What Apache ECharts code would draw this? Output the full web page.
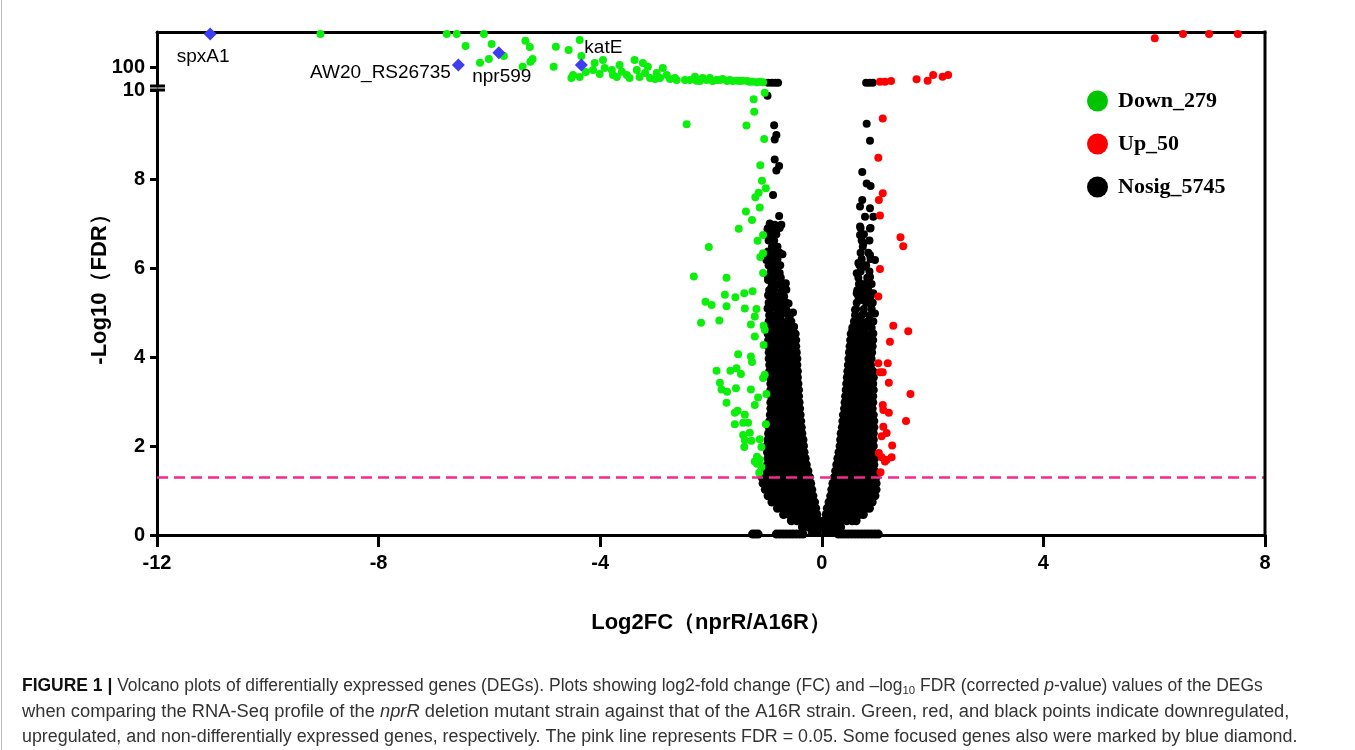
<!DOCTYPE html>
<html><head><meta charset="utf-8">
<script src="https://cdn.jsdelivr.net/npm/echarts@6/dist/echarts.min.js"></script>
<style>html,body{margin:0;padding:0;background:#fff}#c{width:1355px;height:750px}</style>
</head><body><div id="c"></div>
<script>
// ---------- data ----------
const xTicks = [-12, -8, -4, 0, 4, 8];
const lowerTicks = [0, 2, 4, 6, 8, 10];
const upperTicks = [100];
const legendNames = ['Down_279', 'Up_50', 'Nosig_5745'];
const fdrCut = 1.3; // -log10(0.05)

// Down-regulated (green), lower segment 0..10
const downLower = [[-1.03,9.94],[-1.23,9.79],[-1.22,9.51],[-2.44,9.23],[-1.36,9.20],[-1.04,8.90],[-1.11,8.31],[-1.08,7.96],[-1.01,7.79],[-1.14,7.69],[-1.20,7.59],[-1.37,7.27],[-1.12,7.36],[-1.26,7.08],[-1.50,6.88],[-1.06,6.74],[-1.16,6.61],[-2.04,6.47],[-1.06,6.33],[-1.11,6.25],[-1.06,5.89],[-2.31,5.81],[-1.72,5.78],[-1.25,5.48],[-1.40,5.43],[-1.75,5.40],[-1.56,5.34],[-2.10,5.24],[-1.99,5.17],[-1.72,5.14],[-1.39,5.09],[-1.18,5.08],[-1.21,4.91],[-2.18,4.77],[-1.85,4.82],[-1.28,4.73],[-1.05,4.70],[-1.03,4.61],[-1.21,4.46],[-1.05,4.27],[-1.51,4.06],[-1.28,4.01],[-1.26,3.89],[-1.90,3.69],[-1.65,3.69],[-1.54,3.75],[-1.46,3.62],[-1.03,3.60],[-1.06,3.53],[-1.84,3.42],[-1.81,3.27],[-1.71,3.22],[-1.55,3.30],[-1.28,3.27],[-1.00,3.17],[-1.15,3.09],[-1.21,2.92],[-1.72,2.97],[-1.52,2.79],[-1.57,2.75],[-1.39,2.70],[-1.57,2.49],[-1.42,2.52],[-1.33,2.52],[-1.01,2.49],[-1.30,2.30],[-1.42,2.25],[-1.39,2.13],[-1.27,2.12],[-1.40,1.98],[-1.12,2.15],[-1.09,1.98],[-1.17,1.76],[-1.12,1.69],[-1.17,1.60],[-1.09,1.53],[-1.13,1.40],[-1.21,1.65]];
// Down-regulated (green), upper segment (> 10)
const downUpper = [[-9.05,257],[-6.77,257],[-6.59,257],[-6.10,257],[-6.43,200],[-5.96,209],[-5.74,152],[-6.17,120],[-6.01,138],[-5.35,225],[-5.27,195],[-5.22,138],[-5.26,125],[-5.40,101],[-4.80,196],[-4.57,181],[-4.37,228],[-4.34,152],[-4.84,101],[-4.49,62],[-4.37,53],[-4.52,48],[-4.13,86],[-4.10,119],[-3.95,133],[-3.92,95],[-3.79,86],[-3.77,62],[-3.65,110],[-3.61,78],[-3.52,62],[-3.38,133],[-3.34,86],[-3.23,119],[-3.19,72],[-3.14,101],[-3.10,48],[-2.98,72],[-2.92,48],[-2.87,95],[-2.80,62],[-2.65,48],[-2.62,38],[-2.29,54],[-2.26,35],[-2.15,48],[-2.02,48],[-1.90,38],[-1.79,43],[-1.66,38],[-1.53,35],[-1.43,35],[-1.30,30],[-1.17,28],[-1.06,28],[-2.38,38],[-2.20,34],[-2.08,38],[-1.97,34],[-1.84,38],[-1.71,34],[-1.61,34],[-1.48,34],[-1.35,34],[-1.25,30],[-1.12,30],[-4.26,76],[-4.01,67],[-3.70,53],[-3.47,48],[-3.29,53],[-3.01,43],[-2.74,43],[-2.47,38]];

// Up-regulated (red)
const upLower = [[1.10,9.36],[1.02,8.48],[1.10,7.68],[1.03,7.53],[1.05,7.18],[1.42,6.69],[1.47,6.49],[1.05,5.98],[1.02,5.36],[1.29,4.70],[1.56,4.58],[1.23,4.34],[1.02,3.86],[1.19,3.86],[1.05,3.66],[1.10,3.66],[1.21,3.42],[1.60,3.17],[1.10,2.92],[1.11,2.81],[1.21,2.75],[1.52,2.56],[1.11,2.43],[1.17,2.29],[1.08,2.22],[1.27,2.01],[1.03,1.84],[1.08,1.75],[1.26,1.75],[1.14,1.65],[1.17,1.69],[1.06,1.41]];
const upUpper = [[1.05,30],[1.14,30],[1.25,34],[1.71,42],[1.91,35],[2.01,62],[2.18,54],[2.28,62],[6.01,236],[6.52,257],[6.99,257],[7.51,257]];

// Not significant (black)
const nosigUpper = [[-0.97,26],[-0.90,26],[-0.84,26],[-0.79,26],[0.80,26],[0.86,26],[0.92,26]];
const nosigSparse = [[-0.98,9.87],[-0.86,9.21],[-0.82,8.99],[-0.85,8.89],[-0.85,8.44],[-0.77,8.29],[-0.82,8.19],[-0.88,7.64],[-0.77,7.17],[-0.94,7.00],[-0.85,6.97],[-0.73,6.97],[-0.98,6.87],[-0.88,6.85],[-1.00,6.74],[-0.91,6.64],[-0.82,6.48],[-0.97,6.37],[-0.85,6.25],[-0.71,6.31],[-1.00,6.18],[-0.91,6.07],[-0.82,5.96],[-0.76,5.89],[-0.97,5.73],[-0.91,5.58],[-0.82,5.62],[-0.65,5.66],[-0.97,5.39],[-0.73,5.43],[-0.64,5.51],[-0.85,5.28],[-0.70,5.24],[-0.98,5.09],[-0.79,5.06],[-0.64,5.06],[-0.88,4.91],[-0.76,4.83],[-0.58,4.91],[-0.97,4.72],[-0.64,4.72],[-0.55,4.80],[-0.50,4.68],[-0.90,5.18],[-0.60,5.20],[-0.52,5.00],[-0.80,4.62],[-0.70,4.70],
[0.81,9.24],[0.87,8.86],[0.73,8.16],[0.81,7.90],[0.88,7.84],[0.73,7.53],[0.69,7.38],[0.87,7.34],[0.78,7.15],[0.93,7.15],[0.69,6.93],[0.87,6.89],[0.69,6.74],[0.75,6.55],[0.87,6.29],[0.66,6.11],[0.78,6.03],[0.96,6.18],[0.63,5.88],[0.87,5.80],[0.69,5.66],[0.81,5.54],[0.63,5.43],[0.93,5.43],[0.72,5.28],[0.87,5.21],[0.60,5.06],[0.75,4.98],[0.96,4.98],[0.63,4.83],[0.87,4.83],[0.57,4.68],[0.75,4.64],[0.93,4.53],[0.55,4.58],[0.68,4.75],[0.82,4.68]];
// looser band of the V arms, y 4.66..6.9: [-log10 FDR, log2FC values along the row]
const nosigMidRows = [
[4.66, -0.98,-0.88,-0.78,-0.66,-0.55, 0.55,0.66,0.78,0.90],
[4.80, -0.96,-0.84,-0.72,-0.62, 0.58,0.70,0.82,0.93],
[4.94, -0.95,-0.85,-0.74,-0.61, 0.60,0.72,0.86],
[5.08, -0.93,-0.81,-0.69, 0.62,0.76,0.90],
[5.22, -0.96,-0.84,-0.74,-0.64, 0.63,0.80,0.92],
[5.36, -0.92,-0.80,-0.68, 0.66,0.76,0.88],
[5.50, -0.95,-0.86,-0.72, 0.64,0.73,0.84],
[5.64, -0.90,-0.78,-0.66, 0.67,0.78,0.90],
[5.78, -0.97,-0.86,-0.74, 0.66,0.82],
[5.92, -0.92,-0.80, 0.70,0.86],
[6.06, -0.96,-0.86,-0.75, 0.68,0.80],
[6.20, -0.92,-0.80, 0.72,0.88],
[6.34, -0.95,-0.84,-0.76, 0.70,0.84],
[6.48, -0.90,-0.80, 0.74],
[6.62, -0.96,-0.86, 0.72,0.86],
[6.76, -0.92,-0.82, 0.76],
[6.90, -0.97,-0.86,-0.76, 0.70,0.88]
];
// dense V: each row = [-log10 FDR, log2FC values read along that row]
const nosigDenseRows = [
[0.02, -1.25,-1.20,-1.15,-0.82,-0.76,-0.70,-0.64,-0.58,-0.52,-0.46,-0.40,-0.34, 0.30,0.36,0.42,0.48,0.54,0.60,0.66,0.72,0.78,0.84,0.90,0.96,1.02],
[0.06, -0.17,-0.08, 0.07,0.16],
[0.18, -0.35,-0.25,-0.15,-0.05, 0.05,0.15,0.25,0.34],
[0.32, -0.55,-0.45,-0.35,-0.25,-0.15,-0.05, 0.05,0.15,0.25,0.35,0.45,0.55,0.62],
[0.46, -0.69,-0.59,-0.49,-0.39,-0.29,-0.19,-0.09, 0.08,0.18,0.28,0.38,0.48,0.58,0.68,0.75],
[0.60, -0.80,-0.70,-0.60,-0.50,-0.40,-0.30,-0.20,-0.11, 0.10,0.20,0.30,0.40,0.50,0.60,0.70,0.80,0.86],
[0.74, -0.90,-0.80,-0.70,-0.60,-0.50,-0.40,-0.30,-0.21,-0.13, 0.13,0.22,0.32,0.42,0.52,0.62,0.72,0.82,0.91],
[0.88, -0.97,-0.87,-0.77,-0.67,-0.57,-0.47,-0.37,-0.27,-0.16, 0.16,0.26,0.36,0.46,0.56,0.66,0.76,0.86,0.96],
[1.02, -1.02,-0.92,-0.82,-0.72,-0.62,-0.52,-0.42,-0.32,-0.22,-0.18, 0.18,0.28,0.38,0.48,0.58,0.68,0.78,0.88,0.98],
[1.16, -1.06,-0.96,-0.86,-0.76,-0.66,-0.56,-0.46,-0.36,-0.26,-0.20, 0.20,0.30,0.40,0.50,0.60,0.70,0.80,0.90,0.98],
[1.30, -1.08,-0.98,-0.88,-0.78,-0.68,-0.58,-0.48,-0.38,-0.28,-0.22, 0.23,0.33,0.43,0.53,0.63,0.73,0.83,0.92,0.98],
[1.44, -1.00,-0.90,-0.80,-0.70,-0.60,-0.50,-0.40,-0.30,-0.25, 0.25,0.35,0.45,0.55,0.65,0.75,0.85,0.95],
[1.58, -0.98,-0.88,-0.78,-0.68,-0.58,-0.48,-0.38,-0.28, 0.27,0.37,0.47,0.57,0.67,0.77,0.87,0.94],
[1.72, -0.97,-0.87,-0.77,-0.67,-0.57,-0.47,-0.37,-0.30, 0.29,0.39,0.49,0.59,0.69,0.79,0.89,0.95],
[1.86, -0.98,-0.88,-0.78,-0.68,-0.58,-0.48,-0.38,-0.32, 0.31,0.41,0.51,0.61,0.71,0.81,0.91],
[2.00, -0.99,-0.89,-0.79,-0.69,-0.59,-0.49,-0.39,-0.33, 0.33,0.43,0.53,0.63,0.73,0.83,0.93],
[2.14, -0.97,-0.87,-0.77,-0.67,-0.57,-0.47,-0.37,-0.34, 0.34,0.44,0.54,0.64,0.74,0.84,0.93],
[2.28, -0.96,-0.86,-0.76,-0.66,-0.56,-0.46,-0.36, 0.35,0.45,0.55,0.65,0.75,0.85,0.93],
[2.42, -0.95,-0.85,-0.75,-0.65,-0.55,-0.45,-0.37, 0.37,0.47,0.57,0.67,0.77,0.87,0.94],
[2.56, -0.94,-0.84,-0.74,-0.64,-0.54,-0.44,-0.38, 0.38,0.48,0.58,0.68,0.78,0.88,0.94],
[2.70, -0.93,-0.83,-0.73,-0.63,-0.53,-0.45,-0.39, 0.39,0.49,0.59,0.69,0.79,0.89,0.93],
[2.84, -0.92,-0.82,-0.72,-0.62,-0.52,-0.44,-0.40, 0.41,0.51,0.61,0.71,0.81,0.91],
[2.98, -0.92,-0.82,-0.72,-0.62,-0.52,-0.41, 0.42,0.52,0.62,0.72,0.82,0.92],
[3.12, -0.91,-0.81,-0.71,-0.61,-0.51,-0.42, 0.43,0.53,0.63,0.73,0.83,0.92],
[3.26, -0.92,-0.82,-0.72,-0.62,-0.52,-0.42, 0.44,0.54,0.64,0.74,0.84,0.93],
[3.40, -0.92,-0.82,-0.72,-0.62,-0.52,-0.43, 0.45,0.55,0.65,0.75,0.85,0.92],
[3.54, -0.93,-0.83,-0.73,-0.63,-0.53,-0.44, 0.46,0.56,0.66,0.76,0.86,0.93],
[3.68, -0.94,-0.84,-0.74,-0.64,-0.54,-0.44, 0.47,0.57,0.67,0.77,0.87,0.92],
[3.82, -0.94,-0.84,-0.74,-0.64,-0.54,-0.45, 0.48,0.58,0.68,0.78,0.88],
[3.96, -0.95,-0.85,-0.75,-0.65,-0.55,-0.45, 0.49,0.59,0.69,0.79,0.89],
[4.10, -0.95,-0.85,-0.75,-0.65,-0.55,-0.46, 0.50,0.60,0.70,0.80,0.90],
[4.24, -0.96,-0.86,-0.76,-0.66,-0.56,-0.47, 0.51,0.61,0.71,0.81,0.91],
[4.38, -0.96,-0.86,-0.76,-0.66,-0.56,-0.47, 0.52,0.62,0.72,0.82,0.92],
[4.52, -0.97,-0.85,-0.72,-0.60,-0.48, 0.53,0.65,0.78,0.90]
];

// Focused genes (blue diamonds), upper segment
const focusNames = ['spxA1', 'AW20_RS26735', 'npr599', 'katE'];
const focusX = [-11.04, -6.56, -5.83, -4.34];
const focusY = [257, 110, 168, 110];

// ---------- layout / style ----------
const L = 157, R = 1265, W = 1355;
const upTop = 32, upBot = 86, loTop = 90, loBot = 535;
const AX = { color: '#000', width: 3 };
const tickFont = { fontFamily: 'Liberation Sans, Arial', fontWeight: 'bold', fontSize: 20, color: '#000' };
const labelPlacement = {
  spxA1: { position: 'bottom', offset: [-7, 2] },
  AW20_RS26735: { position: 'left', offset: [4, 8] },
  npr599: { position: 'bottom', offset: [3, 3] },
  katE: { position: 'top', offset: [22, 4] }
};

const rowsToPoints = rows => rows.flatMap(r => r.slice(1).map(x => [x, r[0]]));
const nosigDense = rowsToPoints(nosigDenseRows);
const nosigMid = rowsToPoints(nosigMidRows);
const focusData = focusNames.map((n, i) => ({
  name: n, value: [focusX[i], focusY[i]],
  label: Object.assign({ show: true, formatter: '{b}', color: '#000', fontSize: 19, fontFamily: 'Liberation Sans, Arial' }, labelPlacement[n])
}));

const chart = echarts.init(document.getElementById('c'));
const sc = (name, g, data, color, z, size) => ({
  type: 'scatter', name, xAxisIndex: g, yAxisIndex: g, data, z,
  symbolSize: size, itemStyle: { color, opacity: 1 }, emphasis: { disabled: true }, silent: true
});

const CF = 17.6;
const capBase = { fontFamily: 'Liberation Sans, Arial', fontSize: CF, fill: '#333', lineHeight: 21 };
const capRich = {
  b: { fontFamily: 'Liberation Sans, Arial', fontSize: CF, fontWeight: 'bold', fill: '#111', lineHeight: 21 },
  s: { fontFamily: 'Liberation Sans, Arial', fontSize: 11.5, fill: '#333', lineHeight: 11, verticalAlign: 'bottom' },
  i: { fontFamily: 'Liberation Sans, Arial', fontSize: CF, fontStyle: 'italic', fill: '#333', lineHeight: 21 },
  n: capBase
};
const capLines = [
  '{b|FIGURE 1 |}{n| Volcano plots of differentially expressed genes (DEGs). Plots showing log2-fold change (FC) and \u2013log}{s|10}{n| FDR (corrected }{i|p}{n|-value) values of the DEGs}',
  '{n|when comparing the RNA-Seq profile of the }{i|nprR}{n| deletion mutant strain against that of the A16R strain. Green, red, and black points indicate downregulated,}',
  '{n|upregulated, and non-differentially expressed genes, respectively. The pink line represents FDR = 0.05. Some focused genes also were marked by blue diamond.}'
];
const capY = [686, 712, 737];
const capScale = [0.993, 1.04, 1.015];

const option = {
  animation: false,
  backgroundColor: '#fff',
  grid: [
    { left: L, right: W - R, top: upTop, height: upBot - upTop },
    { left: L, right: W - R, top: loTop, height: loBot - loTop }
  ],
  xAxis: [
    { gridIndex: 0, type: 'value', min: -12, max: 8, position: 'top',
      axisLine: { onZero: false, lineStyle: AX }, axisTick: { show: false }, axisLabel: { show: false }, splitLine: { show: false } },
    { gridIndex: 1, type: 'value', min: xTicks[0], max: xTicks[xTicks.length - 1], interval: 4, position: 'bottom',
      axisLine: { onZero: false, lineStyle: AX },
      axisTick: { length: 12, lineStyle: AX },
      axisLabel: Object.assign({ margin: 18 }, tickFont),
      splitLine: { show: false },
      name: 'Log2FC\uff08nprR/A16R\uff09', nameLocation: 'middle', nameGap: 77,
      nameTextStyle: { fontFamily: 'Liberation Sans, Arial', fontWeight: 'bold', fontSize: 22, color: '#000' } }
  ],
  yAxis: [
    { gridIndex: 0, type: 'value', min: 10, max: 266, position: 'left',
      axisLine: { onZero: false, lineStyle: AX },
      axisTick: { length: 7, lineStyle: AX, customValues: upperTicks },
      axisLabel: Object.assign({ margin: 12, customValues: upperTicks }, tickFont),
      splitLine: { show: false } },
    { gridIndex: 1, type: 'value', min: lowerTicks[0], max: lowerTicks[lowerTicks.length - 1], interval: 2, position: 'left',
      axisLine: { onZero: false, lineStyle: AX },
      axisTick: { length: 7, lineStyle: AX },
      axisLabel: Object.assign({ margin: 12 }, tickFont),
      splitLine: { show: false } }
  ],
  legend: {
    orient: 'vertical', left: 1082, top: 85, itemWidth: 21, itemHeight: 21, itemGap: 21, icon: 'circle',
    selectedMode: false,
    textStyle: { fontFamily: 'Liberation Serif, Times New Roman', fontWeight: 'bold', fontSize: 22, color: '#000', padding: [0, 0, 0, 5] },
    data: [
      { name: legendNames[0], itemStyle: { color: '#00c400' } },
      { name: legendNames[1], itemStyle: { color: '#ff0000' } },
      { name: legendNames[2], itemStyle: { color: '#000000' } }
    ]
  },
  series: [
    { type: 'line', xAxisIndex: 1, yAxisIndex: 1, data: [], z: 1, silent: true,
      markLine: { silent: true, symbol: 'none', label: { show: false },
        lineStyle: { color: '#f4288f', type: [11, 6], width: 2.5 },
        data: [{ yAxis: fdrCut }] } },
    sc(legendNames[2], 1, nosigDense, '#000', 2, 9),
    sc(legendNames[2], 1, nosigMid, '#000', 2, 8),
    sc(legendNames[2], 1, nosigSparse, '#000', 2, 8),
    sc(legendNames[2], 0, nosigUpper, '#000', 2, 8),
    sc(legendNames[0], 1, downLower, '#0cee0c', 3, 8),
    sc(legendNames[0], 0, downUpper, '#0cee0c', 3, 8),
    sc(legendNames[1], 1, upLower, '#ff0000', 3, 8),
    sc(legendNames[1], 0, upUpper, '#ff0000', 3, 8),
    Object.assign(sc('Focused genes', 0, focusData, '#3d3df2', 4, 13), { symbol: 'diamond' })
  ],
  graphic: [
    { type: 'line', shape: { x1: R, y1: upTop - 1.5, x2: R, y2: loBot }, style: { stroke: '#000', lineWidth: 3 }, z: 10 },
    { type: 'line', shape: { x1: 150, y1: upBot, x2: 165, y2: upBot }, style: { stroke: '#000', lineWidth: 3 }, z: 10 },
    { type: 'line', shape: { x1: 150, y1: loTop, x2: 165, y2: loTop }, style: { stroke: '#000', lineWidth: 3 }, z: 10 },
    { type: 'text', x: 100, y: 284, rotation: Math.PI / 2,
      style: { text: '-Log10\uff08FDR\uff09', fontFamily: 'Liberation Sans, Arial', fontWeight: 'bold', fontSize: 22, fill: '#000', align: 'center', verticalAlign: 'middle' } },
    { type: 'line', shape: { x1: 1.5, y1: 0, x2: 1.5, y2: 750 }, style: { stroke: '#bbb', lineWidth: 1 } }
  ].concat(capLines.map((t, i) => ({
    type: 'text', x: 22, y: capY[i], scaleX: capScale[i],
    style: Object.assign({ text: t, rich: capRich, verticalAlign: 'middle', align: 'left' }, capBase)
  })))
};
chart.setOption(option);
</script>
</body></html>
